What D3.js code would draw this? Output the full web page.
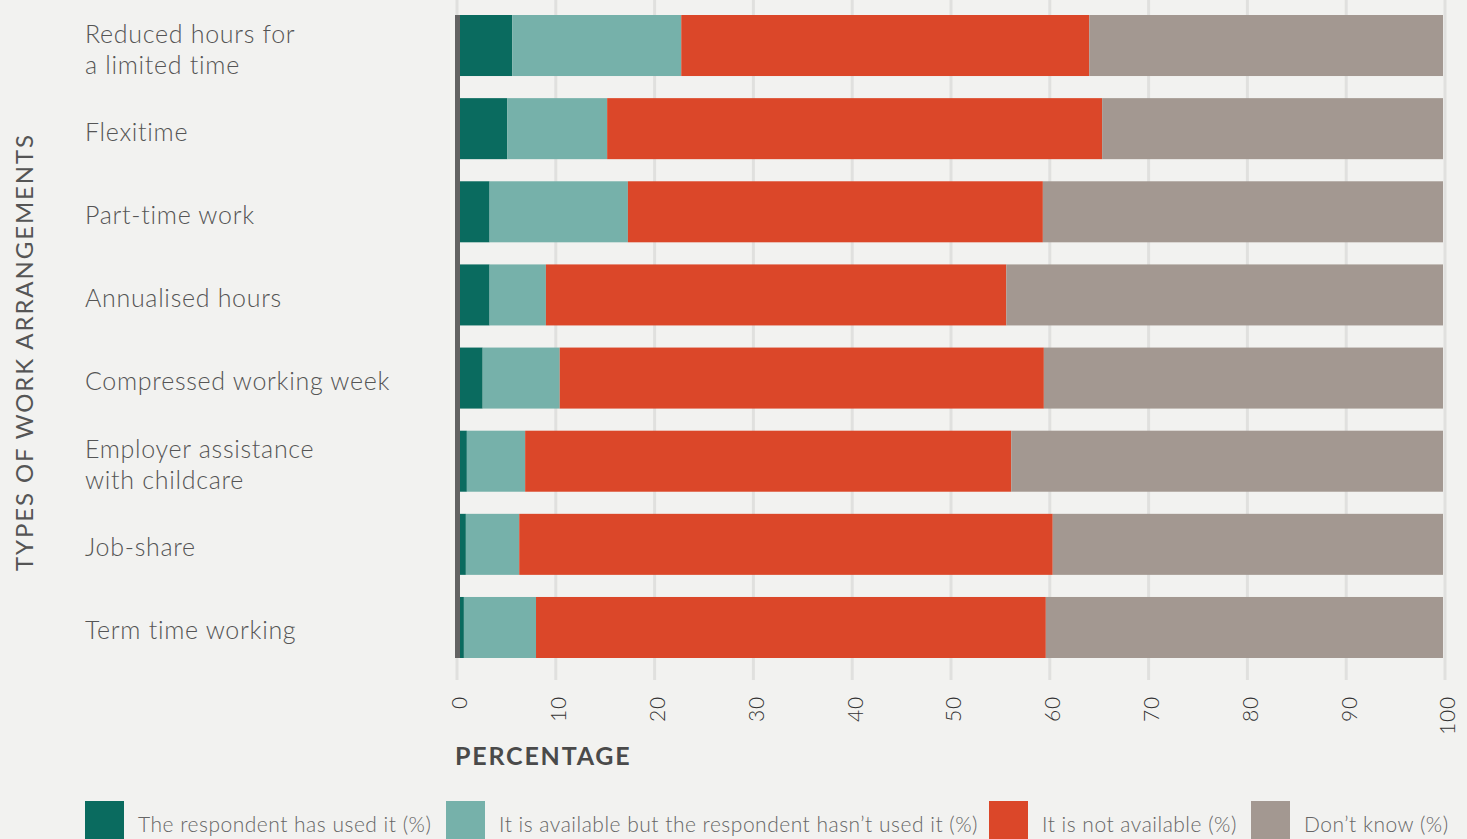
<!DOCTYPE html>
<html>
<head>
<meta charset="utf-8">
<script src="https://cdn.jsdelivr.net/npm/d3@7"></script>
<style>
  html, body { margin: 0; padding: 0; background: #f2f2f0; }
  svg { display: block; font-family: Lato, "Open Sans", sans-serif; }
</style>
</head>
<body>
<svg id="chart" width="1467" height="839"></svg>
<script>
const categories = [
  ["Reduced hours for", "a limited time"],
  ["Flexitime"],
  ["Part-time work"],
  ["Annualised hours"],
  ["Compressed working week"],
  ["Employer assistance", "with childcare"],
  ["Job-share"],
  ["Term time working"],
];
const usedIt = [5.8, 5.3, 3.5, 3.5, 2.8, 1.2, 1.1, 0.9];
const availableNotUsed = [17.1, 10.1, 14.0, 5.7, 7.8, 5.9, 5.4, 7.3];
const notAvailable = [41.3, 50.1, 42.0, 46.6, 49.0, 49.2, 54.0, 51.6];
const dontKnow = [35.8, 34.5, 40.5, 44.2, 40.4, 43.7, 39.5, 40.2];
const seriesNames = [
  "The respondent has used it (%)",
  "It is available but the respondent hasn\u2019t used it (%)",
  "It is not available (%)",
  "Don\u2019t know (%)",
];
const xTicks = [0, 10, 20, 30, 40, 50, 60, 70, 80, 90, 100];

const colors = ["#0a6b5f", "#76b1aa", "#db4729", "#a39891"];

const svg = d3.select("#chart");

const rows = categories.map((c, i) => ({
  key: i,
  label: c,
  s0: usedIt[i],
  s1: availableNotUsed[i],
  s2: notAvailable[i],
  s3: dontKnow[i],
}));

const x = d3.scaleLinear().domain([0, 100]).range([455, 1443]);
const y = d3.scaleBand().domain(rows.map((d) => d.key)).range([15, 658]).paddingInner(0.266).paddingOuter(0);

// gridlines
svg.append("g")
  .selectAll("line")
  .data(xTicks)
  .join("line")
  .attr("x1", (d) => x(d) + 2)
  .attr("x2", (d) => x(d) + 2)
  .attr("y1", 0)
  .attr("y2", 680)
  .attr("stroke", "#e0e0de")
  .attr("stroke-width", 3);

// stacked bars
const stack = d3.stack().keys(["s0", "s1", "s2", "s3"]);
const layers = stack(rows);

svg.append("g")
  .selectAll("g")
  .data(layers)
  .join("g")
  .attr("fill", (d, i) => colors[i])
  .selectAll("rect")
  .data((d) => d)
  .join("rect")
  .attr("x", (d) => x(d[0]))
  .attr("width", (d) => x(d[1]) - x(d[0]))
  .attr("y", (d) => y(d.data.key))
  .attr("height", y.bandwidth());

// zero axis line
svg.append("line")
  .attr("x1", x(0) + 2.5)
  .attr("x2", x(0) + 2.5)
  .attr("y1", 15)
  .attr("y2", 658)
  .attr("stroke", "#636363")
  .attr("stroke-width", 5);

// tick labels (rotated)
svg.append("g")
  .selectAll("text")
  .data(xTicks)
  .join("text")
  .attr("transform", (d) => `translate(${x(d) + 5},696) rotate(-90)`)
  .attr("dy", "0.35em")
  .attr("text-anchor", "end")
  .attr("font-size", 21)
  .attr("font-weight", 300)
  .attr("letter-spacing", 0.8)
  .attr("fill", "#333")
  .text((d) => d);

// x axis title
svg.append("text")
  .attr("x", 455)
  .attr("y", 765)
  .attr("font-size", 25)
  .attr("font-weight", 700)
  .attr("letter-spacing", 1.8)
  .attr("fill", "#4a4a4a")
  .text("PERCENTAGE");

// category labels
const labels = svg.append("g")
  .selectAll("text")
  .data(rows)
  .join("text")
  .attr("x", 85)
  .attr("y", (d) => y(d.key) + y.bandwidth() / 2)
  .attr("font-size", 25)
  .attr("font-weight", 300)
  .attr("letter-spacing", 0.7)
  .attr("fill", "#555");

labels.selectAll("tspan")
  .data((d) => d.label.map((t, j) => ({ t, j, n: d.label.length })))
  .join("tspan")
  .attr("x", 85)
  .attr("dy", (d) => (d.j === 0 ? (d.n === 1 ? "12px" : "-3px") : "31px"))
  .text((d) => d.t);

// y axis title
svg.append("text")
  .attr("transform", "translate(25,352) rotate(-90)")
  .attr("dy", "0.35em")
  .attr("text-anchor", "middle")
  .attr("font-size", 24)
  .attr("font-weight", 400)
  .attr("letter-spacing", 1.9)
  .attr("fill", "#555")
  .text("TYPES OF WORK ARRANGEMENTS");

// legend
const legendX = [85, 446, 989, 1251];
const legend = svg.append("g")
  .selectAll("g")
  .data(seriesNames)
  .join("g")
  .attr("transform", (d, i) => `translate(${legendX[i]},801)`);

legend.append("rect")
  .attr("width", 39)
  .attr("height", 40)
  .attr("fill", (d, i) => colors[i]);

legend.append("text")
  .attr("x", 53)
  .attr("y", 31)
  .attr("font-size", 21)
  .attr("font-weight", 300)
  .attr("letter-spacing", 0.5)
  .attr("fill", "#666")
  .text((d) => d);
</script>
</body>
</html>
